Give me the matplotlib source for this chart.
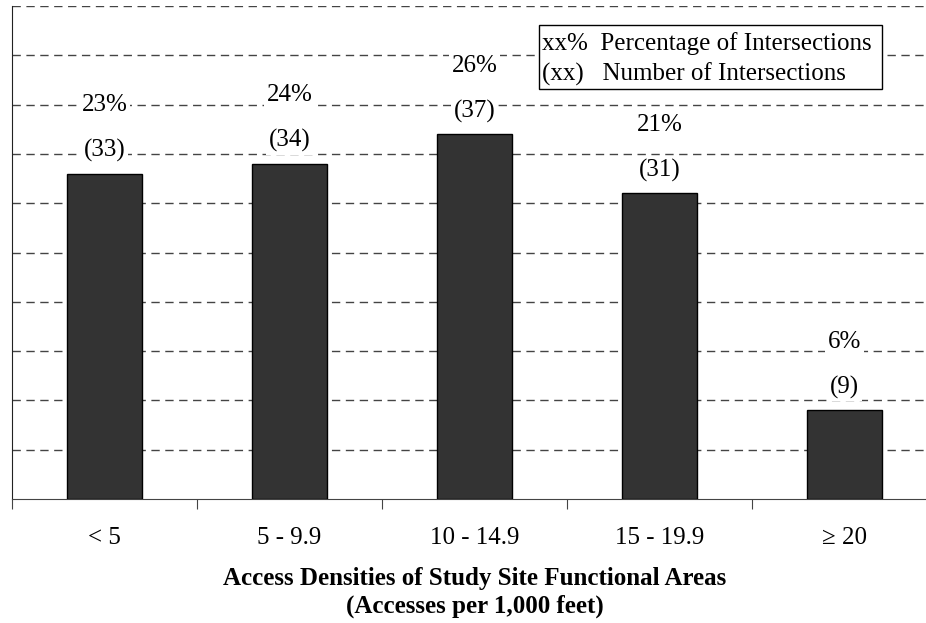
import matplotlib.pyplot as plt
from matplotlib.patches import Rectangle
import numpy as np

# Intersections by access density of the functional area
categories = ['< 5', '5 - 9.9', '10 - 14.9', '15 - 19.9', '\u2265 20']
counts = [33, 34, 37, 31, 9]
percents = ['23%', '24%', '26%', '21%', '6%']

plt.rcParams['font.family'] = ['Liberation Serif', 'DejaVu Serif']
FS = 18

fig = plt.figure(figsize=(9.26, 6.23), dpi=100)
ax = fig.add_axes([12 / 926, 124 / 623, 925 / 926, 493 / 623])

x = np.arange(len(categories))
ax.bar(x, counts, width=0.405, color='#333333', edgecolor='black', linewidth=1, zorder=3)

ax.set_xlim(-0.5, len(categories) - 0.5)
ax.set_ylim(0, 50)

# dashed horizontal gridlines every 5 units, including the top edge
for yv in range(5, 51, 5):
    ax.axhline(yv, color='#444444', linestyle=(0, (6, 4)), linewidth=1, zorder=1)

label_box = dict(boxstyle='square,pad=0.1', facecolor='white', edgecolor='none')
for xi, c, p in zip(x, counts, percents):
    ax.text(xi, c + 2.35, f'({c})', ha='center', va='center', fontsize=FS,
            bbox=label_box, zorder=4)
    ax.text(xi, c + 6.95, p, ha='center', va='center', fontsize=FS,
            bbox=label_box, zorder=4)

# key box in the upper right
ax.add_patch(Rectangle((0.5697, 0.8316), 0.3708, 0.1298, transform=ax.transAxes,
                       facecolor='white', edgecolor='black', linewidth=1, zorder=5))
ax.text(0.5730, 0.8926,
        'xx%  Percentage of Intersections\n(xx)   Number of Intersections',
        transform=ax.transAxes, ha='left', va='center', fontsize=FS,
        linespacing=1.45, zorder=6)

for side in ['top', 'right']:
    ax.spines[side].set_visible(False)
ax.spines['left'].set_color('#222222')
ax.spines['bottom'].set_color('#444444')

ax.set_yticks([])
ax.set_xticks(np.arange(-0.5, len(categories)), minor=False)
ax.set_xticklabels([])
ax.tick_params(axis='x', which='major', direction='out', length=7, color='#444444')
ax.set_xticks(x, minor=True)
ax.set_xticklabels(categories, minor=True, fontsize=FS)
ax.tick_params(axis='x', which='minor', length=0, pad=20)

ax.set_xlabel('Access Densities of Study Site Functional Areas\n(Accesses per 1,000 feet)',
              fontsize=FS, fontweight='bold', labelpad=13, linespacing=1.25)

fig.savefig('out.png', dpi=100)
